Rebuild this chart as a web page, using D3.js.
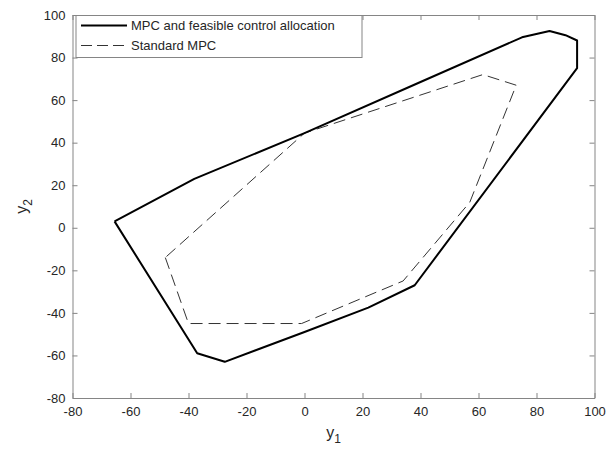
<!DOCTYPE html>
<html>
<head>
<meta charset="utf-8">
<script src="https://cdn.jsdelivr.net/npm/d3@7"></script>
<style>
  body { margin: 0; background: #fff; }
  text { font-family: Arial, "Liberation Sans", sans-serif; fill: #262626; }
</style>
</head>
<body>
<svg width="610" height="459"></svg>
<script>
// region boundaries (y1, y2)
const solidX = [-65.5, -38, 0, 40, 75, 84.5, 90, 94, 94, 38, 22, 0, -27.5, -37, -65.5];
const solidY = [3, 23, 44.5, 68.5, 89.5, 92.5, 90.5, 88, 75, -27, -37.5, -49, -63, -59, 3];

const dashX = [-48, -40, -1, 34, 57, 73, 61.5, 0, -48];
const dashY = [-14, -45, -45, -25, 12, 67, 72, 44.5, -14];

const seriesNames = ["MPC and feasible control allocation", "Standard MPC"];
const xTicks = [-80, -60, -40, -20, 0, 20, 40, 60, 80, 100];
const yTicks = [-80, -60, -40, -20, 0, 20, 40, 60, 80, 100];

const margin = {top: 15, right: 15.5, bottom: 61, left: 72.5};
const width = 610 - margin.left - margin.right,
      height = 459 - margin.top - margin.bottom;

const svg = d3.select("svg");
const g = svg.append("g").attr("transform", `translate(${margin.left}, ${margin.top})`);

const x = d3.scaleLinear().domain([-80, 100]).range([0, width]);
const y = d3.scaleLinear().domain([-80, 100]).range([height, 0]);

const axisColor = "#858585";
const plain = d => String(d);   // keep the short hyphen minus

// axes, ticks pointing inward
const xAxis = g.append("g")
    .attr("transform", `translate(0, ${height})`)
    .call(d3.axisBottom(x).tickValues(xTicks).tickFormat(plain).tickSizeInner(-5).tickSizeOuter(0).tickPadding(9));
const yAxis = g.append("g")
    .call(d3.axisLeft(y).tickValues(yTicks).tickFormat(plain).tickSizeInner(-5).tickSizeOuter(0).tickPadding(7));
// top & right ticks (box on)
const xTop = g.append("g")
    .call(d3.axisTop(x).tickValues(xTicks).tickSizeInner(-5).tickSizeOuter(0).tickFormat(""));
const yRight = g.append("g")
    .attr("transform", `translate(${width}, 0)`)
    .call(d3.axisRight(y).tickValues(yTicks).tickSizeInner(-5).tickSizeOuter(0).tickFormat(""));

[xAxis, yAxis, xTop, yRight].forEach(a => {
    a.select(".domain").attr("stroke", axisColor);
    a.selectAll(".tick line").attr("stroke", axisColor);
    a.selectAll(".tick text").style("font-size", "13px").attr("fill", "#262626");
});

// lines
const line = d3.line().x(d => x(d[0])).y(d => y(d[1]));

g.append("path")
    .datum(dashX.map((v, i) => [v, dashY[i]]))
    .attr("fill", "none")
    .attr("stroke", "#333")
    .attr("stroke-width", 1)
    .attr("stroke-dasharray", "12,6")
    .attr("d", line);

g.append("path")
    .datum(solidX.map((v, i) => [v, solidY[i]]))
    .attr("fill", "none")
    .attr("stroke", "#000")
    .attr("stroke-width", 2)
    .attr("stroke-linejoin", "round")
    .attr("d", line);

// axis labels
const xl = svg.append("text")
    .attr("x", margin.left + width / 2)
    .attr("y", 438)
    .attr("text-anchor", "middle")
    .style("font-size", "16px");
xl.append("tspan").text("y");
xl.append("tspan").attr("dy", 5).style("font-size", "12px").text("1");

const yl = svg.append("text")
    .attr("transform", `translate(27, ${margin.top + height / 2}) rotate(-90)`)
    .attr("text-anchor", "middle")
    .style("font-size", "16px");
yl.append("tspan").text("y");
yl.append("tspan").attr("dy", 5).style("font-size", "12px").text("2");

// legend
const legend = g.append("g").attr("transform", "translate(3.5, 0.5)");
legend.append("rect")
    .attr("width", 286)
    .attr("height", 42)
    .attr("fill", "#fff")
    .attr("stroke", axisColor);

seriesNames.forEach((name, i) => {
    const item = legend.append("g").attr("transform", `translate(0, ${10 + i * 20})`);
    item.append("line")
        .attr("x1", 5).attr("x2", 51)
        .attr("stroke", i == 0 ? "#000" : "#333")
        .attr("stroke-width", i == 0 ? 2 : 1)
        .attr("stroke-dasharray", i == 0 ? null : "11,5");
    item.append("text")
        .attr("x", 55)
        .attr("y", 4.5)
        .style("font-size", "13px")
        .text(name);
});
</script>
</body>
</html>
